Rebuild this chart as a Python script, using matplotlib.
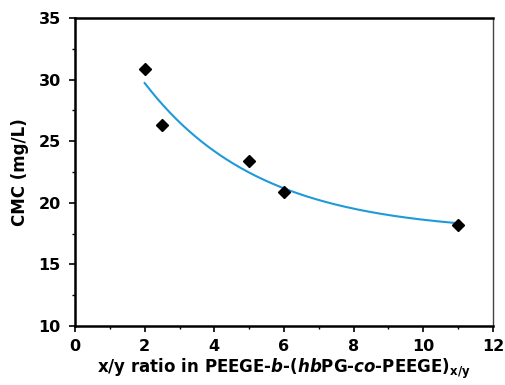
import numpy as np
import matplotlib
matplotlib.use('Agg')
import matplotlib.pyplot as plt
from matplotlib.ticker import MultipleLocator

# Data
ratio = [2, 2.5, 5, 6, 11]
cmc = [30.9, 26.3, 23.4, 20.9, 18.2]

plt.rcParams['font.family'] = 'DejaVu Sans'
plt.rcParams['font.weight'] = 'bold'
plt.rcParams['mathtext.fontset'] = 'custom'
plt.rcParams['mathtext.rm'] = 'DejaVu Sans:bold'
plt.rcParams['mathtext.it'] = 'DejaVu Sans:italic:bold'
plt.rcParams['mathtext.bf'] = 'DejaVu Sans:bold'


def fit_exp_decay(x, y):
    # y = c + A*exp(-k*x), scan k and solve A, c by linear least squares
    x = np.asarray(x, float)
    y = np.asarray(y, float)
    best = None
    for k in np.linspace(0.01, 2, 2000):
        M = np.column_stack([np.exp(-k * x), np.ones_like(x)])
        sol, res, *_ = np.linalg.lstsq(M, y, rcond=None)
        sse = np.sum((M @ sol - y) ** 2)
        if best is None or sse < best[0]:
            best = (sse, k, sol)
    return best[1], best[2]


fig = plt.figure(figsize=(5.05, 3.85), dpi=100)
ax = fig.add_axes([75 / 505, 1 - 326 / 385, 418 / 505, 308 / 385])

k, (amp, off) = fit_exp_decay(ratio, cmc)
xs = np.linspace(min(ratio), max(ratio), 200)
ax.plot(xs, off + amp * np.exp(-k * xs), color='#1f9ad8', lw=1.5, zorder=2)

ax.plot(ratio, cmc, linestyle='none', marker='D', markersize=6.5,
        color='black', zorder=3)

ax.set_xlim(0, 12)
ax.set_ylim(10, 35)
ax.xaxis.set_major_locator(MultipleLocator(2))
ax.xaxis.set_minor_locator(MultipleLocator(1))
ax.yaxis.set_major_locator(MultipleLocator(5))
ax.yaxis.set_minor_locator(MultipleLocator(2.5))
ax.tick_params(which='major', direction='out', length=4.3, width=1.2,
               labelsize=11.5)
ax.tick_params(axis='y', which='major', pad=6)
ax.tick_params(axis='x', which='major', pad=5)
ax.tick_params(which='minor', direction='out', length=2.5, width=1)

ax.spines['left'].set_linewidth(1.8)
ax.spines['bottom'].set_linewidth(1.8)
ax.spines['top'].set_linewidth(1.8)
ax.spines['right'].set_linewidth(1.0)
ax.spines['right'].set_color('#444444')

ax.set_ylabel('CMC (mg/L)', fontsize=12, fontweight='bold', labelpad=7)
ax.set_xlabel(r'x/y ratio in PEEGE-$\it{b}$-($\it{hb}$PG-$\it{co}$-PEEGE)$_{\mathrm{x/y}}$',
              fontsize=12, fontweight='bold', labelpad=2)

fig.savefig('out.png', dpi=100)
